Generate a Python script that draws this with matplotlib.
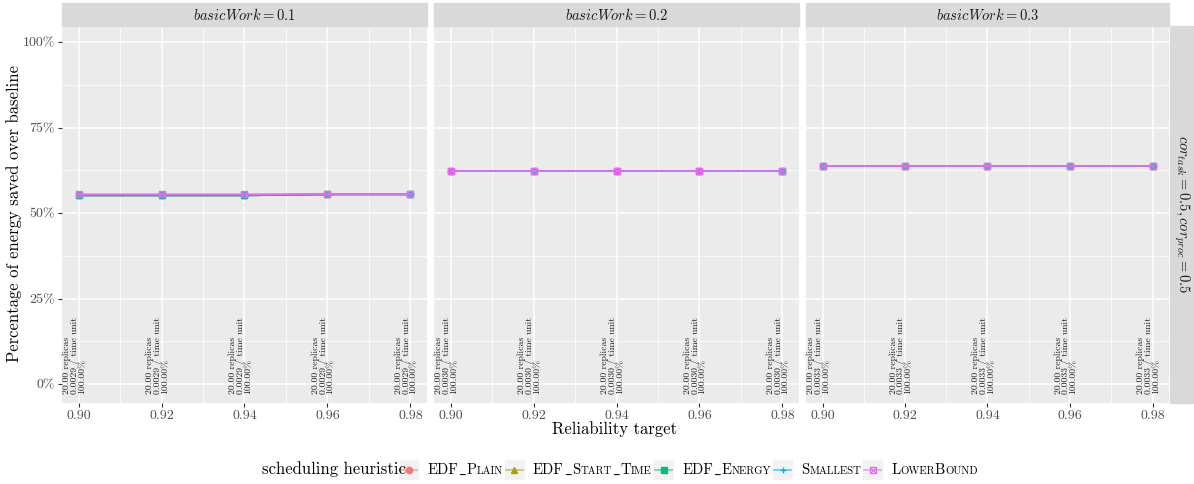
import numpy as np
import matplotlib
matplotlib.use("Agg")
import matplotlib.pyplot as plt
from matplotlib.patches import Rectangle
from matplotlib.lines import Line2D
import matplotlib.transforms as mtransforms

plt.rcParams['font.family'] = ['cmr10', 'DejaVu Serif']
plt.rcParams['mathtext.fontset'] = 'cm'
plt.rcParams['axes.formatter.use_mathtext'] = True

# data
targets = [0.90, 0.92, 0.94, 0.96, 0.98]
panels = ["0.1", "0.2", "0.3"]
heuristics = ["EDF_Plain", "EDF_Start_Time", "EDF_Energy", "Smallest", "LowerBound"]
savings = {
    "0.1": {
        "EDF_Plain":      [0.552, 0.552, 0.552, 0.555, 0.555],
        "EDF_Start_Time": [0.552, 0.552, 0.552, 0.555, 0.555],
        "EDF_Energy":     [0.552, 0.552, 0.552, 0.555, 0.555],
        "Smallest":       [0.552, 0.552, 0.552, 0.555, 0.555],
        "LowerBound":     [0.555, 0.555, 0.555, 0.556, 0.556],
    },
    "0.2": {h: [0.624, 0.624, 0.624, 0.624, 0.624] for h in heuristics},
    "0.3": {h: [0.637, 0.637, 0.637, 0.637, 0.637] for h in heuristics},
}
replicas = ["20.00", "20.00", "20.00"]
rate = ["0.0029", "0.0030", "0.0033"]
success = ["100.00%", "100.00%", "100.00%"]

colors = ["#F8766D", "#A3A500", "#00BF7D", "#00B0F6", "#E76BF3"]
markers = ["o", "^", "s", "+", "s"]

W, H = 1194, 484
fig = plt.figure(figsize=(W / 100, H / 100), dpi=100)

def px(x0, y0, x1, y1):
    return [x0 / W, 1 - y1 / H, (x1 - x0) / W, (y1 - y0) / H]

panel_x = [(62, 427), (434, 799), (806, 1169)]
top, bottom = 26, 403
for i, (pw, (x0, x1)) in enumerate(zip(panels, panel_x)):
    ax = fig.add_axes(px(x0, top, x1, bottom))
    ax.set_facecolor("#EBEBEB")
    for s in ax.spines.values():
        s.set_visible(False)
    ax.set_xlim(0.896, 0.984)
    ax.set_ylim(-0.055, 1.047)
    ax.set_xticks(targets)
    ax.set_xticks([0.91, 0.93, 0.95, 0.97], minor=True)
    ax.set_yticks([0, 0.25, 0.5, 0.75, 1.0])
    ax.set_yticks([0.125, 0.375, 0.625, 0.875], minor=True)
    ax.grid(which="major", color="white", lw=1.1)
    ax.grid(which="minor", color="white", lw=0.5)
    ax.set_axisbelow(True)
    ax.tick_params(which="minor", length=0)
    ax.tick_params(which="major", length=3, color="#333333", labelcolor="#4D4D4D",
                   labelsize=10, pad=2)
    ax.set_xticklabels(["%.2f" % t for t in targets])
    if i == 0:
        ax.set_yticklabels(["0%", "25%", "50%", "75%", "100%"])
    else:
        ax.tick_params(axis="y", length=0, labelleft=False)

    for h, c, m in zip(heuristics, colors, markers):
        vals = savings[pw][h]
        if h == "LowerBound":
            ax.plot(targets, vals, color=c, lw=1.3, marker="s", ms=5,
                    mfc="none", mew=1.0, zorder=5)
            ax.plot(targets, vals, color=c, lw=0, marker="x", ms=4, mew=0.8, zorder=5)
        else:
            ax.plot(targets, vals, color=c, lw=1.3, marker=m, ms=4.5, mew=1.0, zorder=4)

    shift = mtransforms.offset_copy(ax.transData, fig=fig, x=-4, y=0, units="dots")
    for t in targets:
        ax.text(t, -0.028, "%s replicas\n%s / time unit\n%s" % (replicas[i], rate[i], success[i]),
                rotation=90, ha="center", va="bottom", fontsize=7.0, transform=shift,
                linespacing=0.8, multialignment="left", color="#222222")

    # top strip
    fig.patches.append(Rectangle((x0 / W, 1 - 26 / H), (x1 - x0) / W, 23 / H,
                                 transform=fig.transFigure, color="#D9D9D9", zorder=0))
    fig.text((x0 + x1) / 2 / W, 1 - 14.5 / H, r"$basicWork = %s$" % pw,
             ha="center", va="center", fontsize=10.5, color="#1A1A1A")

# right strip
fig.patches.append(Rectangle((1170 / W, 1 - bottom / H), 23 / W, (bottom - top) / H,
                             transform=fig.transFigure, color="#D9D9D9", zorder=0))
fig.text(1182 / W, 1 - (top + bottom) / 2 / H,
         r"$cor_{task} = 0.5, cor_{proc} = 0.5$", rotation=-90,
         ha="center", va="center", fontsize=10.5, color="#1A1A1A")

fig.text(615 / W, 1 - 429 / H, "Reliability target", ha="center", va="center", fontsize=12)
fig.text(14 / W, 1 - 214 / H, "Percentage of energy saved over baseline", rotation=90,
         ha="center", va="center", fontsize=12)

# legend, drawn by hand to get small caps labels
renderer = fig.canvas.get_renderer()

def smallcaps(x, y, s, big=10.5, small=7.7):
    # split label into runs of full-size and small-cap characters
    runs = []
    for ch in s:
        if ch == "_":
            kind = "u"
        elif ch.islower():
            kind = "s"
        else:
            kind = "b"
        if runs and runs[-1][0] == kind and kind != "u":
            runs[-1][1] += ch
        else:
            runs.append([kind, ch])
    for kind, txt in runs:
        if kind == "u":
            t = fig.text(x / W, 1 - y / H, r"$\_$", fontsize=big, ha="left", va="baseline")
        elif kind == "s":
            t = fig.text(x / W, 1 - y / H, txt.upper(), fontsize=small, ha="left", va="baseline")
        else:
            t = fig.text(x / W, 1 - y / H, txt, fontsize=big, ha="left", va="baseline")
        x += t.get_window_extent(renderer).width
    return x

fig.text(262 / W, 1 - 469 / H, "scheduling heuristic", ha="left", va="center", fontsize=12)
kx = 399
ky0, ky1 = 460, 479
for h, c, m in zip(heuristics, colors, markers):
    fig.patches.append(Rectangle((kx / W, 1 - ky1 / H), 19 / W, (ky1 - ky0) / H,
                                 transform=fig.transFigure, color="#F2F2F2", zorder=1))
    yc = 1 - (ky0 + ky1) / 2 / H
    fig.add_artist(Line2D([(kx + 1) / W, (kx + 18) / W], [yc, yc], transform=fig.transFigure,
                          color=c, lw=1.3, alpha=0.55, zorder=2))
    if h == "LowerBound":
        fig.add_artist(Line2D([(kx + 9.5) / W], [yc], transform=fig.transFigure, color=c,
                              lw=0, marker="s", ms=5, mfc="none", mew=1.0, zorder=3))
        fig.add_artist(Line2D([(kx + 9.5) / W], [yc], transform=fig.transFigure, color=c,
                              lw=0, marker="x", ms=4, mew=0.8, zorder=3))
    else:
        fig.add_artist(Line2D([(kx + 9.5) / W], [yc], transform=fig.transFigure, color=c,
                              lw=0, marker=m, ms=4.5, mew=1.0, zorder=3))
    end = smallcaps(kx + 28, 474, h)
    kx = end + 2

fig.savefig("out.png", dpi=100)
